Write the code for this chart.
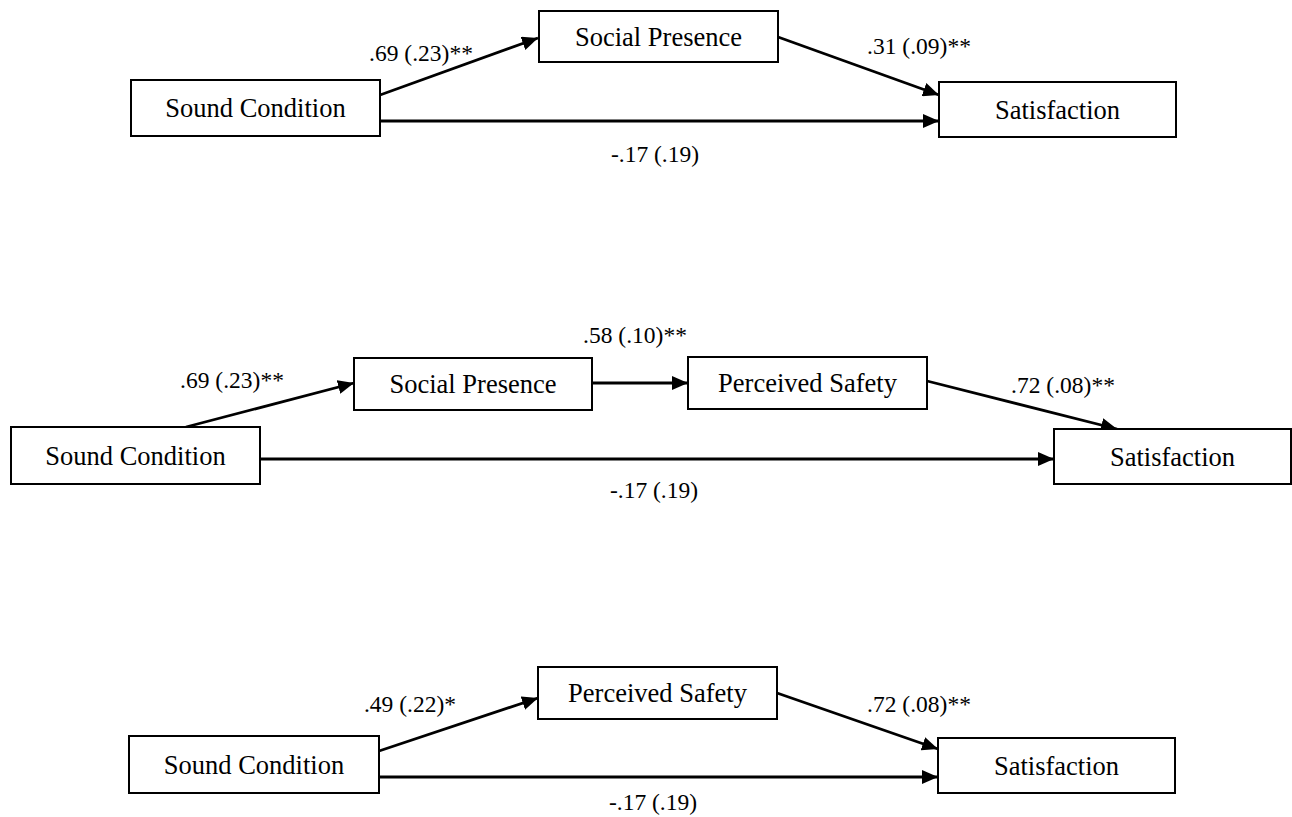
import React from 'react';

// --- DATA ---
// three mediation models, one row per panel
const panelNodes: string[][] = [
  ['Sound Condition', 'Social Presence', 'Satisfaction'],
  ['Sound Condition', 'Social Presence', 'Perceived Safety', 'Satisfaction'],
  ['Sound Condition', 'Perceived Safety', 'Satisfaction'],
];

// path edges: [fromIndex, toIndex]
const panelEdges: [number, number][][] = [
  [[0, 1], [1, 2], [0, 2]],
  [[0, 1], [1, 2], [2, 3], [0, 3]],
  [[0, 1], [1, 2], [0, 2]],
];

const coefs: number[][] = [
  [0.69, 0.31, -0.17],
  [0.69, 0.58, 0.72, -0.17],
  [0.49, 0.72, -0.17],
];
const stdErrs: number[][] = [
  [0.23, 0.09, 0.19],
  [0.23, 0.10, 0.08, 0.19],
  [0.22, 0.08, 0.19],
];
const sigStars: string[][] = [
  ['**', '**', ''],
  ['**', '**', '**', ''],
  ['*', '**', ''],
];

// --- LAYOUT (page pixels) ---
type Box = { x: number; y: number; w: number; h: number };
const boxLayout: Box[][] = [
  [
    { x: 131, y: 80, w: 249, h: 56 },
    { x: 539, y: 11, w: 239, h: 51 },
    { x: 939, y: 82, w: 237, h: 55 },
  ],
  [
    { x: 11, y: 427, w: 249, h: 57 },
    { x: 354, y: 358, w: 238, h: 52 },
    { x: 688, y: 357, w: 239, h: 52 },
    { x: 1054, y: 429, w: 237, h: 55 },
  ],
  [
    { x: 129, y: 736, w: 250, h: 57 },
    { x: 538, y: 667, w: 239, h: 52 },
    { x: 938, y: 738, w: 237, h: 55 },
  ],
];

// arrow start / end and label anchor for each edge
type EdgeGeo = { x1: number; y1: number; x2: number; y2: number; lx: number; ly: number };
const edgeLayout: EdgeGeo[][] = [
  [
    { x1: 380, y1: 95, x2: 538, y2: 38, lx: 421, ly: 61 },
    { x1: 778, y1: 37, x2: 939, y2: 95, lx: 919, ly: 54 },
    { x1: 380, y1: 121, x2: 939, y2: 121, lx: 655, ly: 162 },
  ],
  [
    { x1: 186, y1: 427, x2: 354, y2: 383, lx: 232, ly: 388 },
    { x1: 592, y1: 383, x2: 688, y2: 383, lx: 635, ly: 343 },
    { x1: 927, y1: 381, x2: 1117, y2: 429, lx: 1063, ly: 393 },
    { x1: 260, y1: 459, x2: 1054, y2: 459, lx: 654, ly: 498 },
  ],
  [
    { x1: 379, y1: 751, x2: 538, y2: 698, lx: 410, ly: 712 },
    { x1: 777, y1: 693, x2: 938, y2: 749, lx: 919, ly: 712 },
    { x1: 379, y1: 777, x2: 938, y2: 777, lx: 653, ly: 810 },
  ],
];

const W = 1292;
const H = 817;
const FONT = '"Liberation Serif", "Times New Roman", serif';

// APA style: two decimals, no leading zero, ascii minus
const apa = (v: number) => v.toFixed(2).replace(/^(-?)0\./, '$1.');

const App: React.FC = () => {
  return (
    <svg
      width={W}
      height={H}
      style={{ position: 'absolute', left: 0, top: 0, background: '#fff' }}
    >
      <defs>
        <marker
          id="arrow"
          viewBox="0 0 16 14"
          refX={16}
          refY={7}
          markerWidth={16}
          markerHeight={14}
          markerUnits="userSpaceOnUse"
          orient="auto"
        >
          <path d="M0,0 L16,7 L0,14 Z" fill="#000" />
        </marker>
      </defs>
      <rect width={W} height={H} fill="#fff" />

      {panelNodes.map((nodes, p) => (
        <g key={`panel-${p}`}>
          {panelEdges[p].map((_, i) => {
            const e = edgeLayout[p][i];
            return (
              <line
                key={`e-${i}`}
                x1={e.x1}
                y1={e.y1}
                x2={e.x2}
                y2={e.y2}
                stroke="#000"
                strokeWidth={2.8}
                markerEnd="url(#arrow)"
              />
            );
          })}

          {nodes.map((name, i) => {
            const b = boxLayout[p][i];
            return (
              <g key={`n-${i}`}>
                <rect
                  x={b.x}
                  y={b.y}
                  width={b.w}
                  height={b.h}
                  fill="#fff"
                  stroke="#000"
                  strokeWidth={2}
                />
                <text
                  x={b.x + b.w / 2}
                  y={b.y + b.h / 2 + 9}
                  textAnchor="middle"
                  fontFamily={FONT}
                  fontSize={26.5}
                  fill="#000"
                >
                  {name}
                </text>
              </g>
            );
          })}

          {panelEdges[p].map((_, i) => {
            const e = edgeLayout[p][i];
            return (
              <text
                key={`l-${i}`}
                x={e.lx}
                y={e.ly}
                textAnchor="middle"
                fontFamily={FONT}
                fontSize={23.5}
                fill="#000"
              >
                {`${apa(coefs[p][i])} (${apa(stdErrs[p][i])})${sigStars[p][i]}`}
              </text>
            );
          })}
        </g>
      ))}
    </svg>
  );
};

export default App;
